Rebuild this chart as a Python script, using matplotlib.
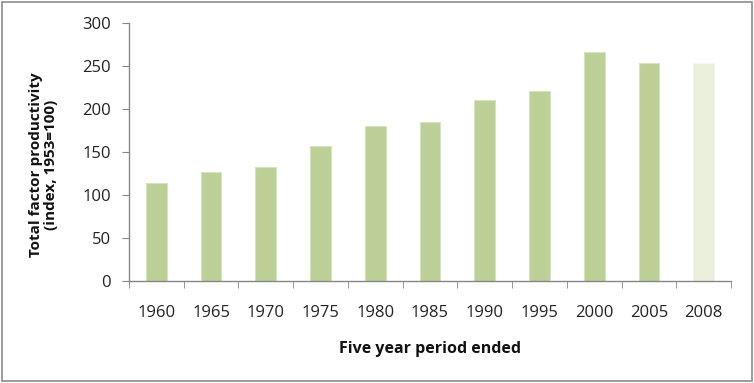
import matplotlib
matplotlib.use("Agg")
import matplotlib.pyplot as plt
from matplotlib.patches import Rectangle
import numpy as np

categories = ["1960", "1965", "1970", "1975", "1980", "1985", "1990", "1995", "2000", "2005", "2008"]
values = [114, 127, 132, 157, 180, 185, 210, 221, 266, 254, 253]
yticks = [0, 50, 100, 150, 200, 250, 300]

plt.rcParams['font.family'] = ['Open Sans', 'DejaVu Sans']

fig = plt.figure(figsize=(7.54, 3.83), dpi=100)
ax = fig.add_axes([0.171, 0.2663, 0.7985, 0.6737])

x = np.arange(len(categories))
colors = ["#BBCF97"] * (len(categories) - 1) + ["#EBF0DE"]
edges = ["#D6E2C0"] * (len(categories) - 1) + ["#F3F6EC"]
ax.bar(x, values, width=0.38, color=colors, edgecolor=edges, linewidth=0.8, zorder=2)

ax.set_xlim(-0.5, len(categories) - 0.5)
ax.set_ylim(0, 300)
ax.set_yticks(yticks)
ax.set_yticklabels([str(v) for v in yticks], fontsize=12, color="#222222")
ax.set_xticks(x)
ax.set_xticklabels(categories, fontsize=12, color="#222222")
ax.set_xticks(np.arange(-0.5, len(categories)), minor=True)
ax.tick_params(axis='x', which='major', length=0, pad=17)
ax.tick_params(axis='x', which='minor', length=5, color="#868686", direction='out')
ax.tick_params(axis='y', which='major', length=5, color="#868686", direction='out', pad=8)

for s in ['top', 'right']:
    ax.spines[s].set_visible(False)
for s in ['left', 'bottom']:
    ax.spines[s].set_color("#868686")
    ax.spines[s].set_linewidth(1.0)

ax.set_ylabel("Total factor productivity\n(index, 1953=100)", fontsize=11, fontweight='bold',
              color="#111111", linespacing=1.1)
ax.yaxis.set_label_coords(-0.118, 0.45)
ax.set_xlabel("Five year period ended", fontsize=11.5, fontweight='bold', color="#111111", labelpad=15)

fig.patches.append(Rectangle((0.003, 0.005), 0.994, 0.99, transform=fig.transFigure,
                             fill=False, edgecolor="#8C8C8C", linewidth=1.2))

fig.savefig("out.png", dpi=100)
